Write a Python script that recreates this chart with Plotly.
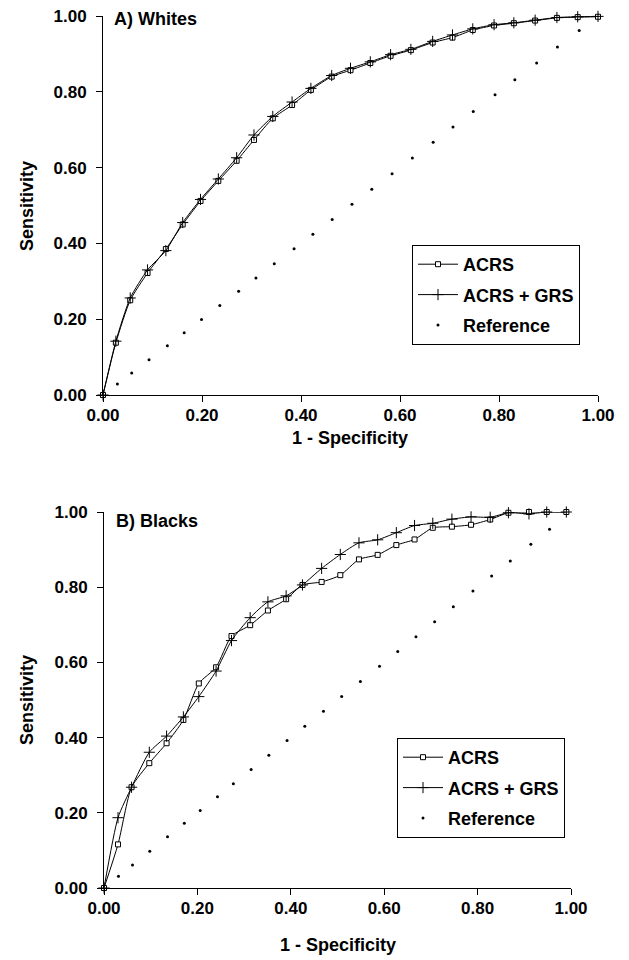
import plotly.graph_objects as go

# ---- Data: A) Whites ----
w_x = [0, 0.026, 0.055, 0.090, 0.127, 0.161, 0.197, 0.233, 0.270, 0.305, 0.343, 0.382, 0.420, 0.462,
       0.500, 0.540, 0.581, 0.622, 0.666, 0.706, 0.747, 0.790, 0.830, 0.873, 0.917, 0.959, 1.000]
w_acrs = [0, 0.138, 0.250, 0.322, 0.385, 0.450, 0.512, 0.565, 0.618, 0.673, 0.730, 0.765, 0.805, 0.840,
          0.857, 0.876, 0.895, 0.910, 0.930, 0.943, 0.963, 0.975, 0.981, 0.988, 0.995, 0.997, 0.998]
w_grs = [0, 0.142, 0.256, 0.330, 0.381, 0.455, 0.516, 0.570, 0.626, 0.686, 0.735, 0.773, 0.809, 0.843,
         0.862, 0.879, 0.898, 0.912, 0.933, 0.950, 0.966, 0.977, 0.982, 0.989, 0.996, 0.998, 0.999]
w_ref = [0.029, 0.058, 0.093, 0.130, 0.164, 0.199, 0.236, 0.274, 0.309, 0.346, 0.386, 0.424, 0.463,
         0.503, 0.543, 0.584, 0.625, 0.667, 0.707, 0.748, 0.792, 0.832, 0.876, 0.918, 0.962]

# ---- Data: B) Blacks ----
b_x = [0, 0.030, 0.059, 0.097, 0.134, 0.170, 0.203, 0.240, 0.273, 0.313, 0.351, 0.390, 0.425, 0.466,
       0.506, 0.546, 0.586, 0.626, 0.665, 0.704, 0.745, 0.786, 0.827, 0.866, 0.910, 0.948, 0.990]
b_acrs = [0, 0.116, 0.268, 0.332, 0.385, 0.447, 0.544, 0.587, 0.670, 0.699, 0.738, 0.768, 0.806, 0.814,
          0.832, 0.874, 0.886, 0.912, 0.927, 0.958, 0.961, 0.966, 0.980, 0.998, 1.000, 1.000, 1.000]
b_grs = [0, 0.187, 0.268, 0.361, 0.404, 0.455, 0.509, 0.577, 0.658, 0.719, 0.761, 0.777, 0.806, 0.850,
         0.887, 0.918, 0.926, 0.945, 0.964, 0.970, 0.981, 0.987, 0.986, 0.998, 0.995, 1.000, 1.000]
b_ref = [0.031, 0.061, 0.098, 0.136, 0.172, 0.206, 0.243, 0.277, 0.315, 0.353, 0.392, 0.430, 0.470,
         0.509, 0.549, 0.590, 0.629, 0.668, 0.708, 0.748, 0.790, 0.830, 0.870, 0.914, 0.954]

tick_vals = [0, 0.2, 0.4, 0.6, 0.8, 1.0]
tick_text = ["0.00", "0.20", "0.40", "0.60", "0.80", "1.00"]
names = ["ACRS", "ACRS + GRS", "Reference"]

FONT = "Liberation Sans, Arial, sans-serif"
W, H = 629, 960

fig = go.Figure()

def add_panel(x, acrs, grs, ref, xa, ya, legend):
    fig.add_trace(go.Scatter(
        x=x, y=acrs, mode="lines+markers", name=names[0], xaxis=xa, yaxis=ya, legend=legend,
        legendgroup=legend + "a", cliponaxis=False,
        line=dict(color="black", width=1, shape="spline", smoothing=0.6),
        marker=dict(symbol="square", size=5, color="white", line=dict(color="black", width=1))))
    fig.add_trace(go.Scatter(
        x=x, y=grs, mode="lines+markers", name=names[1], xaxis=xa, yaxis=ya, legend=legend,
        legendgroup=legend + "b", cliponaxis=False,
        line=dict(color="black", width=1, shape="spline", smoothing=0.6),
        marker=dict(symbol="cross-thin", size=8, color="black", line=dict(color="black", width=1))))
    fig.add_trace(go.Scatter(
        x=ref, y=ref, mode="markers", name=names[2], xaxis=xa, yaxis=ya, legend=legend,
        legendgroup=legend + "c", cliponaxis=False,
        marker=dict(symbol="circle", size=3, color="black")))

add_panel(w_x, w_acrs, w_grs, w_ref, "x", "y", "legend")
add_panel(b_x, b_acrs, b_grs, b_ref, "x2", "y2", "legend2")

def px_x(p):
    return p / W

def px_y(p):
    return 1 - p / H

tickfont = dict(family=FONT, size=17, color="black", weight="bold")
ax_common = dict(range=[0, 1], tickvals=tick_vals, ticktext=tick_text, showgrid=False, zeroline=False,
                 showline=True, linecolor="black", linewidth=1, ticks="outside", ticklen=6,
                 tickcolor="black", tickwidth=1, tickfont=tickfont, fixedrange=True, automargin=False)

legend_common = dict(bgcolor="white", bordercolor="black", borderwidth=1, xanchor="left", yanchor="top",
                     font=dict(family=FONT, size=18, color="black", weight="bold"),
                     tracegroupgap=4, itemwidth=40, itemclick=False)

fig.update_layout(
    template="none",
    width=W, height=H, margin=dict(l=0, r=0, t=0, b=0, pad=0, autoexpand=False),
    paper_bgcolor="white", plot_bgcolor="white",
    showlegend=True,
    xaxis=dict(domain=[px_x(103), px_x(598)], anchor="y", ticklabelstandoff=-1, **ax_common),
    yaxis=dict(domain=[px_y(395), px_y(16)], anchor="x", ticklabelstandoff=6, **ax_common),
    xaxis2=dict(domain=[px_x(104), px_x(571)], anchor="y2", ticklabelstandoff=-1, **ax_common),
    yaxis2=dict(domain=[px_y(888), px_y(512)], anchor="x2", ticklabelstandoff=6, **ax_common),
    legend=dict(x=px_x(412), y=px_y(245), **legend_common),
    legend2=dict(x=px_x(397), y=px_y(738), **legend_common),
)

title_font = dict(family=FONT, size=18, color="black", weight="bold")
panel_font = dict(family=FONT, size=18, color="black", weight="bold")
ann = [
    dict(text="A) Whites", x=px_x(112), y=px_y(19), xanchor="left", yanchor="middle", font=panel_font),
    dict(text="B) Blacks", x=px_x(114), y=px_y(521), xanchor="left", yanchor="middle", font=panel_font),
    dict(text="1 - Specificity", x=px_x(350), y=px_y(438), xanchor="center", yanchor="middle",
         font=title_font),
    dict(text="1 - Specificity", x=px_x(338), y=px_y(945), xanchor="center", yanchor="middle",
         font=title_font),
    dict(text="Sensitivity", x=px_x(27), y=px_y(206), xanchor="center", yanchor="middle",
         textangle=-90, font=title_font),
    dict(text="Sensitivity", x=px_x(27), y=px_y(700), xanchor="center", yanchor="middle",
         textangle=-90, font=title_font),
]
for a in ann:
    a.update(xref="paper", yref="paper", showarrow=False)
fig.update_layout(annotations=ann)

fig.write_html("out.html", config={"displayModeBar": False},
               post_script="document.body.style.margin='0px';")
